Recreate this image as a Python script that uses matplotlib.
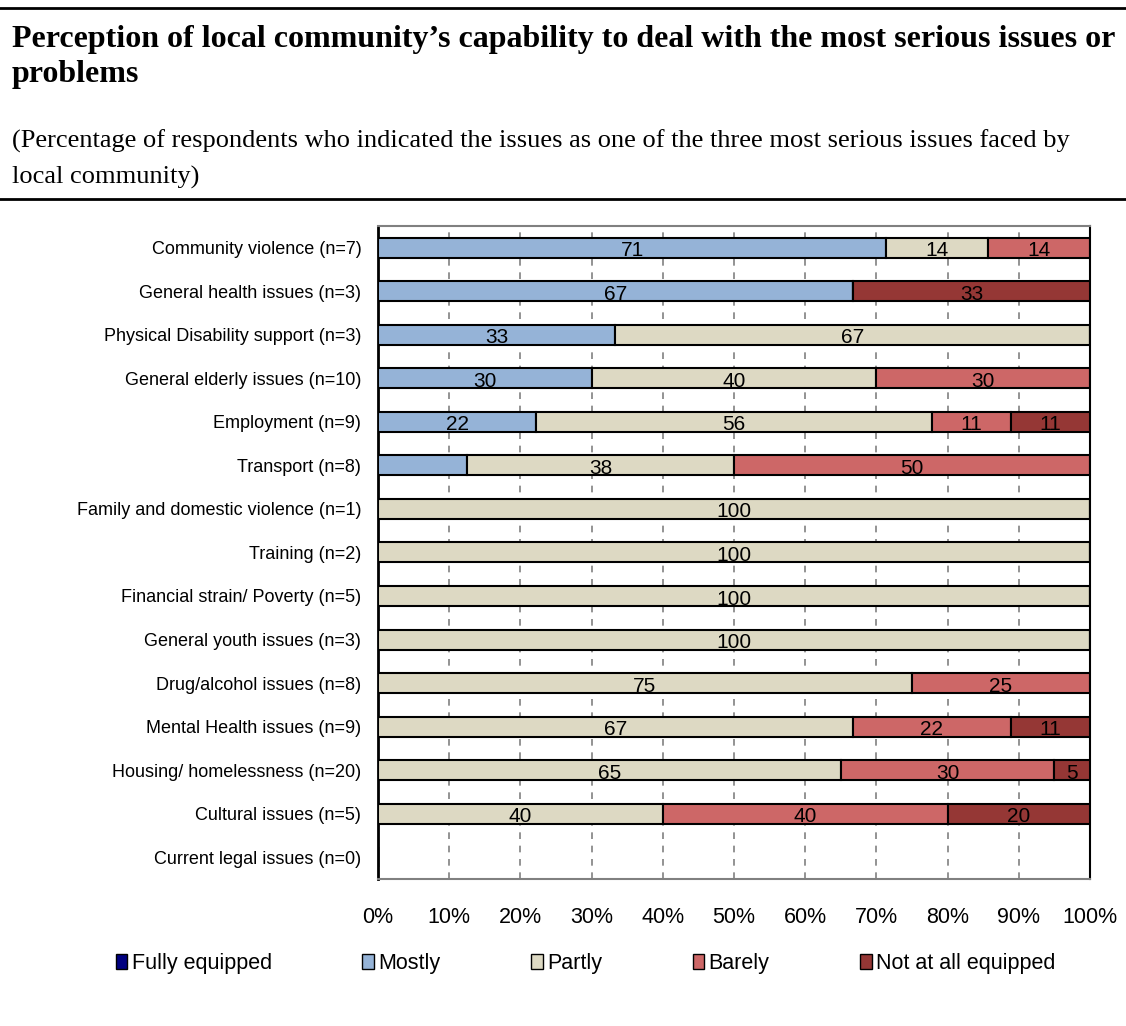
import matplotlib.pyplot as plt
import numpy as np
from matplotlib.patches import Patch
from matplotlib.lines import Line2D

# Данные
categories = ['Community violence (n=7)', 'General health issues (n=3)',
              'Physical Disability support (n=3)', 'General elderly issues (n=10)',
              'Employment (n=9)', 'Transport (n=8)', 'Family and domestic violence (n=1)',
              'Training (n=2)', 'Financial strain/ Poverty (n=5)', 'General youth issues (n=3)',
              'Drug/alcohol issues (n=8)', 'Mental Health issues (n=9)',
              'Housing/ homelessness (n=20)', 'Cultural issues (n=5)',
              'Current legal issues (n=0)']
series = ['Fully equipped', 'Mostly', 'Partly', 'Barely', 'Not at all equipped']
fully = [0, 0, 0, 0, 0, 0, 0, 0, 0, 0, 0, 0, 0, 0, 0]
mostly = [71.4, 66.7, 33.3, 30, 22.2, 12.5, 0, 0, 0, 0, 0, 0, 0, 0, 0]
partly = [14.3, 0, 66.7, 40, 55.6, 37.5, 100, 100, 100, 100, 75, 66.7, 65, 40, 0]
barely = [14.3, 0, 0, 30, 11.1, 50, 0, 0, 0, 0, 25, 22.2, 30, 40, 0]
not_at_all = [0, 33.3, 0, 0, 11.1, 0, 0, 0, 0, 0, 0, 11.1, 5, 20, 0]
# подписи, которых нет на исходном графике
hidden_labels = [('Mostly', 'Transport (n=8)')]

colors = ['#000080', '#95B3D7', '#DDD9C3', '#CD6767', '#953735']
values = [fully, mostly, partly, barely, not_at_all]

fig = plt.figure(figsize=(11.26, 10.26), dpi=100)
ax = fig.add_axes([0.3357, 0.1433, 0.6323, 0.6365])

y = np.arange(len(categories))
left = np.zeros(len(categories))
for name, vals, col in zip(series, values, colors):
    vals = np.array(vals, dtype=float)
    ax.barh(y, vals, left=left, height=0.46, color=col, edgecolor='black',
            linewidth=1.5, zorder=3)
    for i, v in enumerate(vals):
        if v > 0 and (name, categories[i]) not in hidden_labels:
            ax.text(left[i] + v / 2, y[i] + 0.07, f'{v:.0f}', ha='center', va='center',
                    fontsize=15, family='Liberation Sans', zorder=4)
    left += vals

ax.set_xlim(0, 100)
ax.set_ylim(len(categories) - 0.5, -0.5)
ax.set_yticks(y)
ax.set_yticklabels(categories, fontsize=13, family='Liberation Sans')
ax.set_xticks(np.arange(0, 101, 10))
ax.set_xticklabels([f'{t}%' for t in range(0, 101, 10)], fontsize=15.5,
                   family='Liberation Sans')
ax.tick_params(length=0)
ax.tick_params(axis='y', pad=12)
ax.tick_params(axis='x', pad=20)
ax.grid(axis='x', color='#808080', linestyle=(0, (4, 4)), linewidth=1.2, zorder=0)
ax.spines['left'].set_linewidth(2)
ax.spines['left'].set_color('black')
ax.spines['right'].set_color('black')
ax.spines['right'].set_linewidth(1.5)
for s in ['top', 'bottom']:
    ax.spines[s].set_color('#808080')
    ax.spines[s].set_linewidth(1.5)

# Легенда
handles = [Patch(facecolor=c, edgecolor='black', linewidth=1) for c in colors]
fig.legend(handles, series, loc='center', bbox_to_anchor=(0.52, 0.061), ncol=5,
           frameon=False, handlelength=0.55, handleheight=0.7, handletextpad=0.2,
           columnspacing=4.2, prop={'family': 'Liberation Sans', 'size': 15.5})

# Заголовок и подзаголовок
fig.text(0.0107, 0.9756, 'Perception of local community’s capability to deal with the most serious issues or\nproblems',
         fontsize=23, fontweight='bold', family='Liberation Serif', va='top',
         linespacing=1.29)
fig.text(0.0107, 0.874, '(Percentage of respondents who indicated the issues as one of the three most serious issues faced by\nlocal community)',
         fontsize=19, family='Liberation Serif', va='top', linespacing=1.73)
fig.add_artist(Line2D([0, 1], [1 - 8 / 1026, 1 - 8 / 1026], color='black', linewidth=2))
fig.add_artist(Line2D([0, 1], [1 - 199 / 1026, 1 - 199 / 1026], color='black', linewidth=2))

fig.savefig('out.png', dpi=100)
